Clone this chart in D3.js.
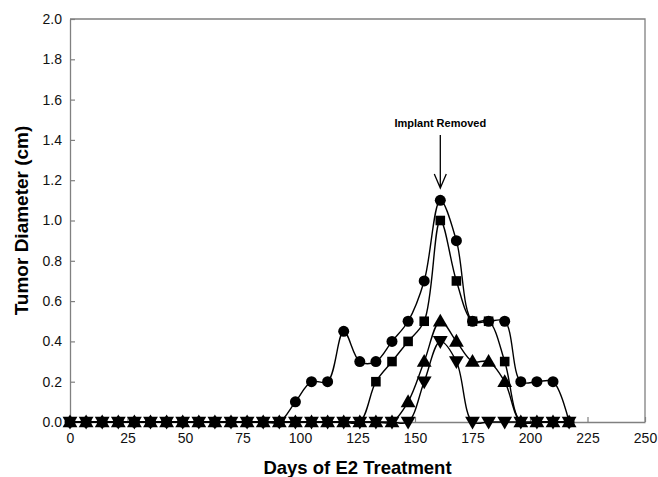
<!DOCTYPE html>
<html>
<head>
<meta charset="utf-8">
<script src="https://cdn.jsdelivr.net/npm/d3@7"></script>
<style>
  body { margin: 0; background: #fff; }
  svg { display: block; font-family: "Liberation Sans", Arial, sans-serif; }
</style>
</head>
<body>
<svg width="658" height="477"></svg>
<script>
// days of E2 treatment (weekly measurements)
var days = [0, 7, 14, 21, 28, 35, 42, 49, 56, 63, 70, 77, 84, 91, 98, 105,
            112, 119, 126, 133, 140, 147, 154, 161, 168, 175, 182, 189, 196, 203, 210, 217];

// tumor diameter (cm) per animal
var circleVals = [0, 0, 0, 0, 0, 0, 0, 0, 0, 0, 0, 0, 0, 0, 0.1, 0.2,
                  0.2, 0.45, 0.3, 0.3, 0.4, 0.5, 0.7, 1.1, 0.9, 0.5, 0.5, 0.5, 0.2, 0.2, 0.2, 0];
var squareVals = [0, 0, 0, 0, 0, 0, 0, 0, 0, 0, 0, 0, 0, 0, 0, 0,
                  0, 0, 0, 0.2, 0.3, 0.4, 0.5, 1.0, 0.7, 0.5, 0.5, 0.3, 0, 0, 0, 0];
var triUpVals = [0, 0, 0, 0, 0, 0, 0, 0, 0, 0, 0, 0, 0, 0, 0, 0,
                 0, 0, 0, 0, 0, 0.1, 0.3, 0.5, 0.4, 0.3, 0.3, 0.2, 0, 0, 0, 0];
var triDownVals = [0, 0, 0, 0, 0, 0, 0, 0, 0, 0, 0, 0, 0, 0, 0, 0,
                   0, 0, 0, 0, 0, 0, 0.2, 0.4, 0.3, 0, 0, 0, 0, 0, 0, 0];

var xTicks = [0, 25, 50, 75, 100, 125, 150, 175, 200, 225, 250];
var yTicks = [0, 0.2, 0.4, 0.6, 0.8, 1.0, 1.2, 1.4, 1.6, 1.8, 2.0];

var annotation = { day: 161, label: "Implant Removed" };

var margin = {top: 19, right: 13, bottom: 55, left: 70},
    width = 658 - margin.left - margin.right,
    height = 477 - margin.top - margin.bottom;

var axisColor = "#808080";

var svg = d3.select("svg");
var g = svg.append("g")
    .attr("transform", "translate(" + margin.left + "," + margin.top + ")");

var x = d3.scaleLinear().domain([0, 250]).range([0, width]);
var y = d3.scaleLinear().domain([0, 2]).range([height, 0]);

// frame (top + right)
g.append("path")
    .attr("d", "M0,0H" + width + "V" + height)
    .attr("fill", "none")
    .attr("stroke", axisColor)
    .attr("stroke-width", 1.3);

var xAxis = g.append("g")
    .attr("transform", "translate(0," + height + ")")
    .call(d3.axisBottom(x).tickValues(xTicks).tickSizeInner(-5).tickSizeOuter(0).tickPadding(11));

var yAxis = g.append("g")
    .call(d3.axisLeft(y).tickValues(yTicks).tickSizeInner(-5).tickSizeOuter(0).tickPadding(8)
      .tickFormat(d3.format(".1f")));

[xAxis, yAxis].forEach(function(a) {
  a.select(".domain").attr("stroke", axisColor).attr("stroke-width", 1.3);
  a.selectAll(".tick line").attr("stroke", axisColor).attr("stroke-width", 1.2);
  a.selectAll(".tick text").attr("fill", "#111").style("font-size", "14px");
});

// axis titles
svg.append("text")
    .attr("x", margin.left + width / 2)
    .attr("y", 474)
    .attr("text-anchor", "middle")
    .style("font-size", "18.5px")
    .style("font-weight", "bold")
    .text("Days of E2 Treatment");

svg.append("text")
    .attr("transform", "translate(28," + (margin.top + height / 2) + ") rotate(-90)")
    .attr("text-anchor", "middle")
    .style("font-size", "19px")
    .style("font-weight", "bold")
    .text("Tumor Diameter (cm)");

// series
var series = [
  {vals: triDownVals, sym: d3.symbolTriangle, size: 95, rot: 180},
  {vals: triUpVals, sym: d3.symbolTriangle, size: 95, rot: 0},
  {vals: squareVals, sym: d3.symbolSquare, size: 92, rot: 0},
  {vals: circleVals, sym: d3.symbolCircle, size: 95, rot: 0}
];

var line = d3.line()
    .x(function(d) { return x(d[0]); })
    .y(function(d) { return y(d[1]); })
    .curve(d3.curveCatmullRom.alpha(0.5));

series.forEach(function(s) {
  var pts = days.map(function(d, i) { return [d, s.vals[i]]; });
  g.append("path")
      .datum(pts)
      .attr("d", line)
      .attr("fill", "none")
      .attr("stroke", "#000")
      .attr("stroke-width", 1.4);
});

series.forEach(function(s) {
  var pts = days.map(function(d, i) { return [d, s.vals[i]]; });
  g.append("g").selectAll("path")
      .data(pts).enter()
      .append("path")
      .attr("d", d3.symbol().type(s.sym).size(s.size))
      .attr("transform", function(d) {
        var ty = y(d[1]) + (s.sym === d3.symbolTriangle ? (s.rot ? -1 : 1) : 0);
        return "translate(" + x(d[0]) + "," + ty + ") rotate(" + s.rot + ")";
      })
      .attr("fill", "#000");
});

// annotation arrow
var ax = x(annotation.day);
g.append("text")
    .attr("x", ax)
    .attr("y", 126.5 - margin.top)
    .attr("text-anchor", "middle")
    .style("font-size", "11px")
    .style("font-weight", "bold")
    .text(annotation.label);

g.append("path")
    .attr("d", "M" + ax + "," + (135 - margin.top) + "V" + (188 - margin.top) +
               "M" + (ax - 6) + "," + (174 - margin.top) + "L" + ax + "," + (188 - margin.top) +
               "L" + (ax + 6) + "," + (174 - margin.top))
    .attr("fill", "none")
    .attr("stroke", "#000")
    .attr("stroke-width", 1.3);
</script>
</body>
</html>
